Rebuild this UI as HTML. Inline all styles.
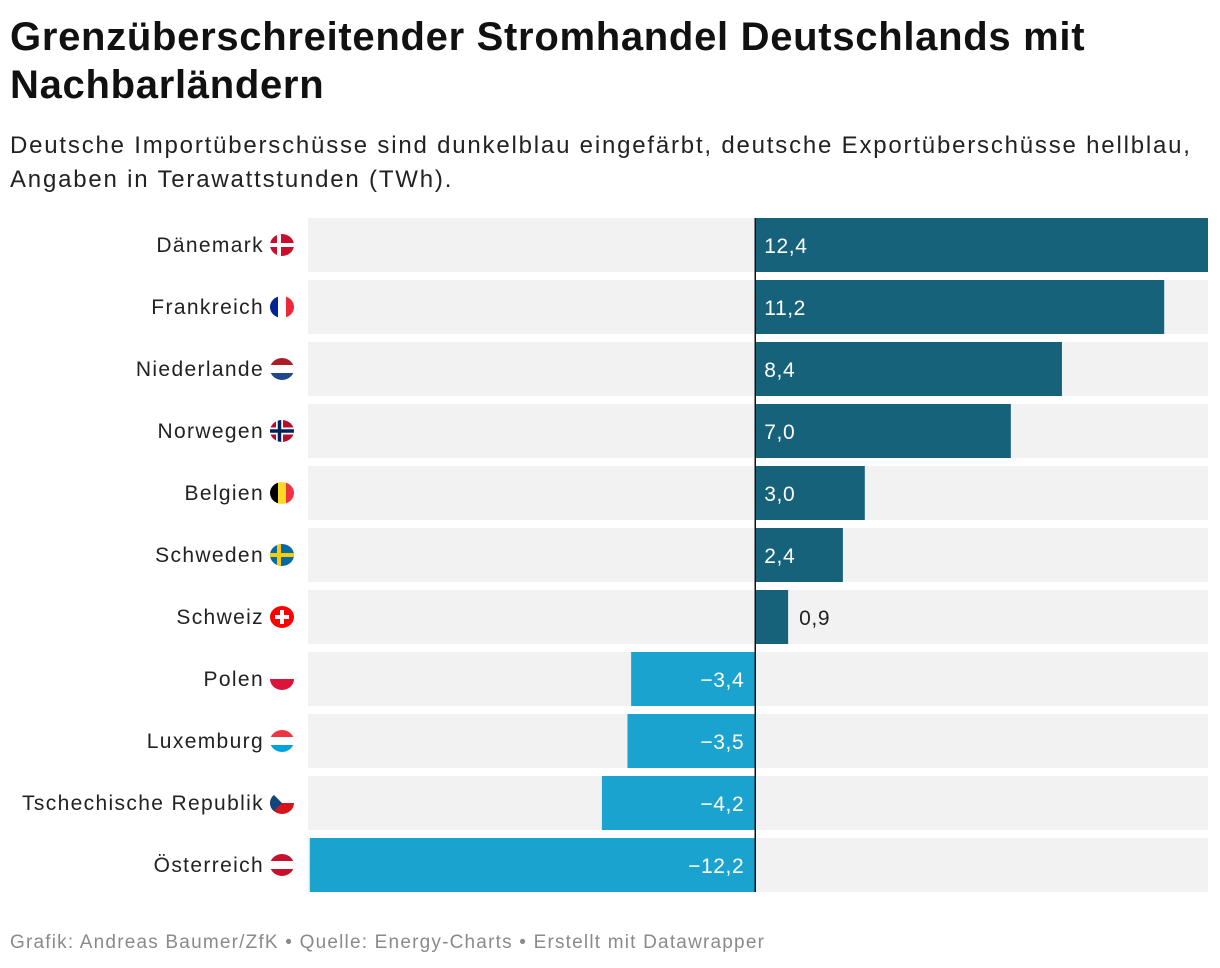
<!DOCTYPE html>
<html><head><meta charset="utf-8">
<style>
body{margin:0;width:1220px;height:968px;background:#fff;font-family:"Liberation Sans",Roboto,sans-serif;overflow:hidden;position:relative}
#title{position:absolute;left:10px;top:13px;width:1210px;font-size:40px;font-weight:bold;line-height:48px;color:#111;letter-spacing:0.7px;white-space:nowrap}
#sub{position:absolute;left:10px;top:129px;width:1210px;font-size:24px;line-height:34px;color:#222;letter-spacing:1.8px;white-space:nowrap}
#foot{position:absolute;left:10px;top:932px;font-size:19px;color:#8a8a8a;letter-spacing:1.2px;white-space:nowrap}
svg{position:absolute;left:0;top:0}
</style></head><body>
<div id="title">Grenzüberschreitender Stromhandel Deutschlands mit<br>Nachbarländern</div>
<div id="sub">Deutsche Importüberschüsse sind dunkelblau eingefärbt, deutsche Exportüberschüsse hellblau,<br>Angaben in Terawattstunden (TWh).</div>
<svg id="chart" width="1220" height="968"></svg>
<div id="foot">Grafik: Andreas Baumer/ZfK • Quelle: Energy-Charts • Erstellt mit Datawrapper</div>
<script>
const countries=["Dänemark","Frankreich","Niederlande","Norwegen","Belgien","Schweden","Schweiz","Polen","Luxemburg","Tschechische Republik","Österreich"];
const values=[12.4,11.2,8.4,7.0,3.0,2.4,0.9,-3.4,-3.5,-4.2,-12.2];
const flags=["dk","fr","nl","no","be","se","ch","pl","lu","cz","at"];
const NS="http://www.w3.org/2000/svg";
const svg=document.getElementById("chart");
const x0=308,x1=1208,dmin=-12.25,dmax=12.4;
const xs=v=>x0+(v-dmin)/(dmax-dmin)*(x1-x0);
const rowTop=i=>218+i*62, rowH=54;
function mk(t,a,p){const e=document.createElementNS(NS,t);for(const k in a)e.setAttribute(k,a[k]);(p||svg).appendChild(e);return e;}
const fmt=v=>(v<0?"\u2212":"")+Math.abs(v).toFixed(1).replace(".",",");
function flag(code,cx,cy,i){
  const r=12;
  const g=mk("g",{});
  
  
  const cp=mk("clipPath",{id:"c"+i},g);mk("ellipse",{cx,cy,rx:r,ry:11},cp);
  const h=mk("g",{"clip-path":"url(#c"+i+")"},g);
  const L=cx-r,T=cy-r,W=2*r;
  const R=(x,y,w,hh,f)=>mk("rect",{x,y,width:w,height:hh,fill:f},h);
  const hs=(cs)=>cs.forEach((c,k)=>R(L,T+k*W/cs.length,W,W/cs.length+0.5,c));
  const vs=(cs)=>cs.forEach((c,k)=>R(L+k*W/cs.length,T,W/cs.length+0.5,W,c));
  if(code=="dk"){R(L,T,W,W,"#c8102e");R(L+7,T,4,W,"#fff");R(L,cy-2,W,4,"#fff");}
  if(code=="fr")vs(["#002395","#fff","#ed2939"]);
  if(code=="nl")hs(["#ae1c28","#fff","#21468b"]);
  if(code=="no"){R(L,T,W,W,"#ba0c2f");R(L+6,T,7,W,"#fff");R(L,cy-3.5,W,7,"#fff");R(L+7.75,T,3.5,W,"#00205b");R(L,cy-1.75,W,3.5,"#00205b");}
  if(code=="be")vs(["#000","#fdda24","#ef3340"]);
  if(code=="se"){R(L,T,W,W,"#006aa7");R(L+7,T,4,W,"#fecc00");R(L,cy-2,W,4,"#fecc00");}
  if(code=="ch"){R(L,T,W,W,"#ff0000");R(cx-2,cy-7,4,14,"#fff");R(cx-7,cy-2,14,4,"#fff");}
  if(code=="pl")hs(["#fff","#dc143c"]);
  if(code=="lu")hs(["#ef3340","#fff","#00a3e0"]);
  if(code=="cz"){hs(["#fff","#d7141a"]);mk("polygon",{points:`${L},${T} ${cx},${cy} ${L},${T+W}`,fill:"#11457e"},h);}
  if(code=="at")hs(["#c8102e","#fff","#c8102e"]);
}
countries.forEach((c,i)=>{
  const t=rowTop(i),v=values[i];
  const bg=mk("rect",{x:x0,y:t,width:x1-x0,height:rowH,fill:"#f2f2f2"});
  
  
  const a=Math.min(xs(0),xs(v)),b=Math.max(xs(0),xs(v));
  const bar=mk("rect",{x:a,y:t,width:b-a,height:rowH,fill:v>=0?"#17627b":"#1ba3cf"});
  
  
  const lab=mk("text",{x:264,y:t+rowH/2+7,"text-anchor":"end","font-size":"21","letter-spacing":"1.35",fill:"#222"});
  lab.textContent=c;
  
  
  flag(flags[i],282,t+rowH/2,i);
  let vx,anchor,col;
  const inside=(b-a)>60;
  if(v>=0){if(inside){vx=xs(0)+9;anchor="start";col="#fff";}else{vx=xs(v)+11;anchor="start";col="#222";}}
  else{vx=xs(0)-11;anchor="end";col="#fff";}
  const vl=mk("text",{x:vx,y:t+rowH/2+8,"text-anchor":anchor,"font-size":"21","letter-spacing":"0.6",fill:col});
  vl.textContent=fmt(v);
  
  
});
const zl=mk("line",{x1:xs(0),x2:xs(0),y1:218,y2:892,stroke:"#111","stroke-width":1.5});


</script>
</body></html>
